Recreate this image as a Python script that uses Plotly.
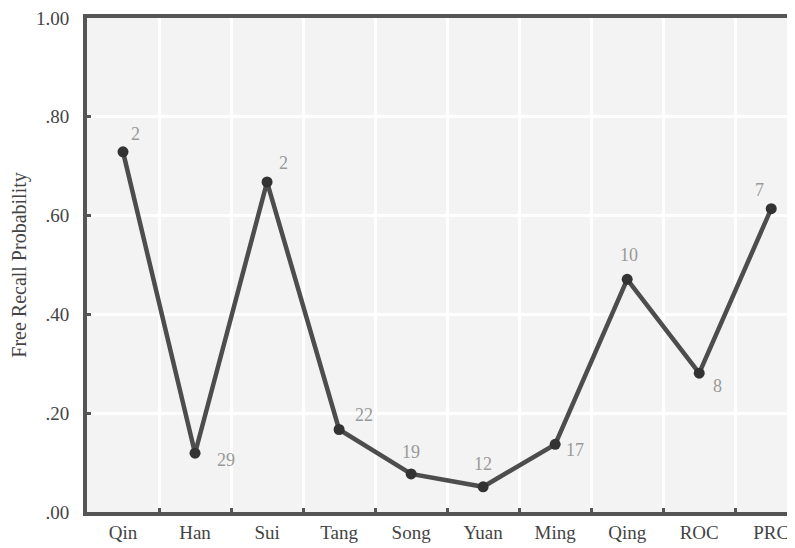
import plotly.graph_objects as go

dynasties = ["Qin", "Han", "Sui", "Tang", "Song", "Yuan", "Ming", "Qing", "ROC", "PRC"]
recall_prob = [0.729, 0.119, 0.668, 0.167, 0.077, 0.051, 0.137, 0.471, 0.281, 0.614]
counts = [2, 29, 2, 22, 19, 12, 17, 10, 8, 7]
y_tick_vals = [0.0, 0.2, 0.4, 0.6, 0.8, 1.0]
y_tick_text = [".00", ".20", ".40", ".60", ".80", "1.00"]
# label offsets (pixels) per point
label_dx = [12, 31, 16, 25, 0, 0, 20, 2, 18, -12]
label_dy = [18, -7, 19, 15, 22, 23, -6, 24, -13, 19]

AX = "#555555"
FONT = "Liberation Serif"
fig = go.Figure()
fig.add_trace(go.Scatter(
    x=dynasties, y=recall_prob, mode="lines+markers",
    line=dict(color="#4d4d4d", width=4.5),
    marker=dict(color="#333333", size=11),
    hoverinfo="skip", showlegend=False,
))
for d, v, c, dx, dy in zip(dynasties, recall_prob, counts, label_dx, label_dy):
    fig.add_annotation(x=d, y=v, text=str(c), showarrow=False,
                       xshift=dx, yshift=dy,
                       font=dict(family=FONT, size=18, color="#999999"))

fig.update_layout(
    width=787, height=540,
    margin=dict(l=79, r=0, t=10, b=36),
    paper_bgcolor="white", plot_bgcolor="#f3f3f3",
    font=dict(family=FONT, size=19, color="#444444"),
)
fig.update_xaxes(
    type="category", range=[-0.5, 9.33],
    tickson="boundaries", ticks="inside", ticklen=4, tickwidth=3, tickcolor=AX,
    showgrid=True, gridcolor="white", gridwidth=3,
    showline=True, linecolor=AX, linewidth=4, mirror=True,
    tickfont=dict(family=FONT, size=19, color="#444444"),
)
fig.update_yaxes(
    range=[0, 1.0], tickvals=y_tick_vals, ticktext=y_tick_text,
    ticks="inside", ticklen=4, tickwidth=3, tickcolor=AX,
    showgrid=True, gridcolor="white", gridwidth=3, zeroline=False,
    showline=True, linecolor=AX, linewidth=4,
    ticklabelstandoff=10, ticklabeloverflow="allow",
    title=dict(text="Free Recall Probability", standoff=14,
               font=dict(family=FONT, size=20, color="#444444")),
    tickfont=dict(family=FONT, size=19, color="#444444"),
)
fig.write_html("out.html")
